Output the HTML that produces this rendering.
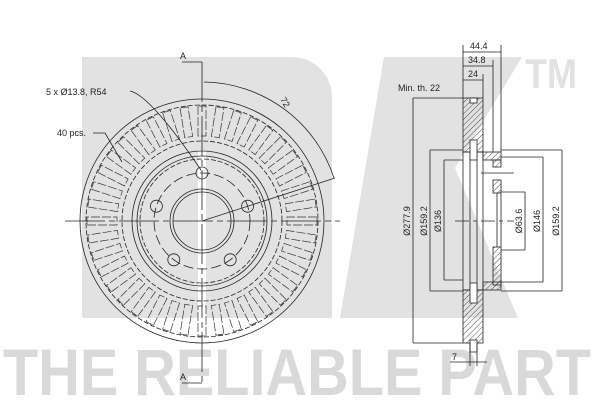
<!DOCTYPE html>
<html><head><meta charset="utf-8"><style>
html,body{margin:0;padding:0;background:#fff;}
svg{display:block;}
text{font-family:"Liberation Sans",sans-serif;}
</style></head><body>
<svg width="600" height="400" viewBox="0 0 600 400" xmlns="http://www.w3.org/2000/svg">
<defs>
<pattern id="h" width="4" height="4" patternUnits="userSpaceOnUse" patternTransform="rotate(45)">
<line x1="0" y1="0" x2="0" y2="4" stroke="#222" stroke-width="0.8"/>
</pattern>
<path id="v" d="M198,106 v30 h8 v-30 z" fill="none" stroke="#333" stroke-width="0.7" stroke-dasharray="9,2"/>
</defs>
<!-- watermark -->
<g fill="#e2e2e2">
<path d="M82,57 H292 A40,40 0 0 1 332,97 V318 H82 Z"/>
<polygon points="384,57 522,57 455,168 518,318 340,318"/>
<text x="525" y="88" font-size="42" font-weight="bold" fill="#e2e2e2" textLength="52" lengthAdjust="spacingAndGlyphs">TM</text>
<text x="3" y="395" font-size="66" font-weight="bold" fill="#d9d9d9" textLength="588" lengthAdjust="spacingAndGlyphs">THE RELIABLE PART</text>
</g>
<rect x="198" y="150" width="8" height="168" fill="#fff"/>
<g fill="none" stroke="#222" stroke-width="0.8">
<circle cx="202" cy="221" r="122"/>
<circle cx="202" cy="221" r="116" stroke-dasharray="5,2"/>
<circle cx="202" cy="221" r="80" stroke-dasharray="5,2"/>
<circle cx="202" cy="221" r="70"/>
<circle cx="202" cy="221" r="65"/>
<circle cx="202" cy="221" r="62" stroke-dasharray="5,2"/>
<circle cx="202" cy="221" r="48" stroke-dasharray="10,4"/>
<circle cx="202" cy="221" r="32"/>
<circle cx="202" cy="221" r="29"/>
<circle cx="202" cy="173" r="6"/>
<circle cx="247.6" cy="206.2" r="6"/>
<circle cx="230.2" cy="259.8" r="6"/>
<circle cx="173.8" cy="259.8" r="6"/>
<circle cx="156.4" cy="206.2" r="6"/>
<use href="#v"/><use href="#v" transform="rotate(9 202 221)"/><use href="#v" transform="rotate(18 202 221)"/><use href="#v" transform="rotate(27 202 221)"/><use href="#v" transform="rotate(36 202 221)"/><use href="#v" transform="rotate(45 202 221)"/><use href="#v" transform="rotate(54 202 221)"/><use href="#v" transform="rotate(63 202 221)"/><use href="#v" transform="rotate(72 202 221)"/><use href="#v" transform="rotate(81 202 221)"/><use href="#v" transform="rotate(90 202 221)"/><use href="#v" transform="rotate(99 202 221)"/><use href="#v" transform="rotate(108 202 221)"/><use href="#v" transform="rotate(117 202 221)"/><use href="#v" transform="rotate(126 202 221)"/><use href="#v" transform="rotate(135 202 221)"/><use href="#v" transform="rotate(144 202 221)"/><use href="#v" transform="rotate(153 202 221)"/><use href="#v" transform="rotate(162 202 221)"/><use href="#v" transform="rotate(171 202 221)"/><use href="#v" transform="rotate(180 202 221)"/><use href="#v" transform="rotate(189 202 221)"/><use href="#v" transform="rotate(198 202 221)"/><use href="#v" transform="rotate(207 202 221)"/><use href="#v" transform="rotate(216 202 221)"/><use href="#v" transform="rotate(225 202 221)"/><use href="#v" transform="rotate(234 202 221)"/><use href="#v" transform="rotate(243 202 221)"/><use href="#v" transform="rotate(252 202 221)"/><use href="#v" transform="rotate(261 202 221)"/><use href="#v" transform="rotate(270 202 221)"/><use href="#v" transform="rotate(279 202 221)"/><use href="#v" transform="rotate(288 202 221)"/><use href="#v" transform="rotate(297 202 221)"/><use href="#v" transform="rotate(306 202 221)"/><use href="#v" transform="rotate(315 202 221)"/><use href="#v" transform="rotate(324 202 221)"/><use href="#v" transform="rotate(333 202 221)"/><use href="#v" transform="rotate(342 202 221)"/><use href="#v" transform="rotate(351 202 221)"/>
<line x1="65" y1="221" x2="340" y2="221" stroke-dasharray="40,4,6,4"/>
<line x1="202" y1="62" x2="202" y2="383" stroke-dasharray="40,4,6,4"/>
<path d="M182,62 H202 M182,383 H202"/>
<line x1="202" y1="221" x2="335" y2="178"/>
<path d="M204,82 A139,139 0 0 1 334,178"/>
<path d="M130,91 Q150,95 201,170"/>
<path d="M93,133 H105 L122,162"/>
<rect x="463" y="98" width="20" height="54" fill="url(#h)"/>
<rect x="463" y="290" width="20" height="53" fill="url(#h)"/>
<rect x="463" y="152" width="7" height="138"/>
<rect x="477" y="152" width="6" height="138"/>
<rect x="470" y="98" width="7" height="5" fill="#fff"/>
<rect x="470" y="140" width="7" height="20" fill="#fff"/>
<rect x="470" y="283" width="7" height="20" fill="#fff"/>
<rect x="470" y="340" width="7" height="12" fill="#fff"/>
<rect x="483" y="152" width="18" height="8" fill="url(#h)"/>
<rect x="493" y="160" width="8" height="7" fill="url(#h)"/>
<rect x="493" y="180" width="8" height="13" fill="url(#h)"/>
<rect x="493" y="247" width="8" height="38" fill="url(#h)"/>
<rect x="483" y="282" width="18" height="8" fill="url(#h)"/>
<path d="M497,193 V247 M501,193 V247 M481,173 H514"/>
<line x1="455" y1="221" x2="514" y2="221" stroke-dasharray="14,4,4,4"/>
<path d="M463,45 V98 M501,45 V152 M493,60 V152 M483,74 V98"/>
<path d="M463,52 H501 M463,66 H493 M463,80 H483"/>
<path d="M413,98 H463 M413,343 H463 M413,98 V343"/>
<path d="M430,150 H463 M430,291 H463 M430,150 V291"/>
<path d="M444,160 H463 M444,280 H463 M444,160 V280"/>
<path d="M501,192 H525 M501,250 H525 M525,192 V250"/>
<path d="M501,157 H543 M501,282 H543 M543,157 V282"/>
<path d="M501,150 H562 M501,291 H562 M562,150 V291"/>
<path d="M470,343 V366 M477,343 V366 M450,362 H487"/>
</g>
<g font-size="9" fill="#222">
<text x="46" y="95">5 x Ø13.8, R54</text>
<text x="57" y="136">40 pcs.</text>
<text x="180" y="59">A</text>
<text x="180" y="380">A</text>
<text x="282" y="104" transform="rotate(60 285 100)">72</text>
<text x="470" y="49">44.4</text>
<text x="468" y="63">34.8</text>
<text x="468" y="77">24</text>
<text x="398" y="91">Min. th. 22</text>
<text x="452" y="360">7</text>
<g text-anchor="middle">
<text transform="translate(410,221) rotate(-90)">Ø277.9</text>
<text transform="translate(427,221) rotate(-90)">Ø159.2</text>
<text transform="translate(441,221) rotate(-90)">Ø136</text>
<text transform="translate(522,221) rotate(-90)">Ø63.6</text>
<text transform="translate(540,221) rotate(-90)">Ø146</text>
<text transform="translate(559,221) rotate(-90)">Ø159.2</text>
</g>
</g>
</svg>
</body></html>
